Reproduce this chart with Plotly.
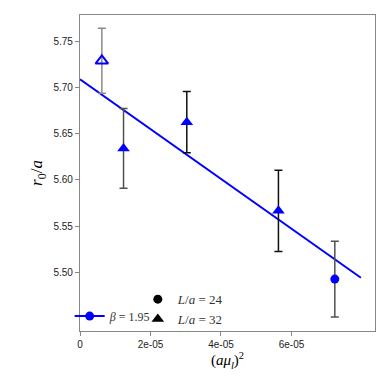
import plotly.graph_objects as go

# Data
x_vals = [6.2e-6, 1.235e-5, 3.03e-5, 5.63e-5, 7.23e-5]
y_vals = [5.729, 5.634, 5.6625, 5.5665, 5.4925]
y_err = [0.0352, 0.0432, 0.0332, 0.0440, 0.0410]
symbols = ["triangle-up-open", "triangle-up", "triangle-up", "triangle-up", "circle"]
err_colors = ["#8a8a8a", "#505050", "#111111", "#111111", "#505050"]

fit_x = [0.0, 7.97e-5]
fit_y = [5.709, 5.494]

x_tick_vals = [0, 2e-5, 4e-5, 6e-5]
x_tick_text = ["0", "2e-05", "4e-05", "6e-05"]
y_tick_vals = [5.50, 5.55, 5.60, 5.65, 5.70, 5.75]

fig = go.Figure()

fig.add_trace(go.Scatter(x=fit_x, y=fit_y, mode="lines",
                         line=dict(color="#0000ff", width=2), showlegend=False,
                         hoverinfo="skip"))

for xv, yv, ev, sym, ec in zip(x_vals, y_vals, y_err, symbols, err_colors):
    fig.add_trace(go.Scatter(
        x=[xv], y=[yv], mode="markers",
        marker=dict(symbol=sym, color="#0000ff",
                    size=11 if "triangle" in sym else 9,
                    line=dict(color="#0000ff", width=2 if "open" in sym else 0)),
        error_y=dict(type="data", array=[ev], color=ec, thickness=1.5, width=4),
        showlegend=False))

serif = "Liberation Serif, DejaVu Serif, serif"

# legend entries
fig.add_trace(go.Scatter(x=[None], y=[None], mode="lines+markers",
                         line=dict(color="#0000ff", width=2),
                         marker=dict(symbol="circle", color="#0000ff", size=9),
                         name="<i>β</i> = 1.95", legend="legend"))
fig.add_trace(go.Scatter(x=[None], y=[None], mode="markers",
                         marker=dict(symbol="circle", color="black", size=9),
                         name="<i>L</i>/<i>a</i> = 24", legend="legend2"))
fig.add_trace(go.Scatter(x=[None], y=[None], mode="markers",
                         marker=dict(symbol="triangle-up", color="black", size=11),
                         name="<i>L</i>/<i>a</i> = 32", legend="legend2"))

axis_common = dict(showline=True, linecolor="#888888", linewidth=1.2, mirror=True,
                   ticks="outside", ticklen=4, tickcolor="#888888", showgrid=False,
                   zeroline=False, tickfont=dict(family="Liberation Sans, Arial, sans-serif",
                                                 size=10, color="#222222"))

fig.update_layout(
    width=383, height=375,
    margin=dict(l=72, r=16, t=7, b=52, autoexpand=False),
    paper_bgcolor="white", plot_bgcolor="white",
    xaxis=dict(range=[0, 8.37e-5], tickvals=x_tick_vals, ticktext=x_tick_text,
               title=dict(text="(<i>aμ</i><sub><i>l</i></sub>)<sup>2</sup>",
                          font=dict(family=serif, size=15, color="black"), standoff=0),
               **axis_common),
    yaxis=dict(range=[5.4363, 5.7786], tickvals=y_tick_vals, tickformat=".2f",
               title=dict(text="<i>r</i><sub>0</sub>/<i>a</i>",
                          font=dict(family=serif, size=17, color="black"), standoff=6),
               **axis_common),
    legend=dict(x=-0.035, y=0.093, xanchor="left", yanchor="top",
                bgcolor="rgba(0,0,0,0)", font=dict(family=serif, size=12, color="#333333"),
                itemwidth=30),
    legend2=dict(x=0.196, y=0.148, xanchor="left", yanchor="top",
                 bgcolor="rgba(0,0,0,0)", font=dict(family=serif, size=13, color="#333333"),
                 itemwidth=30, tracegroupgap=0),
)

fig.write_html("out.html")
